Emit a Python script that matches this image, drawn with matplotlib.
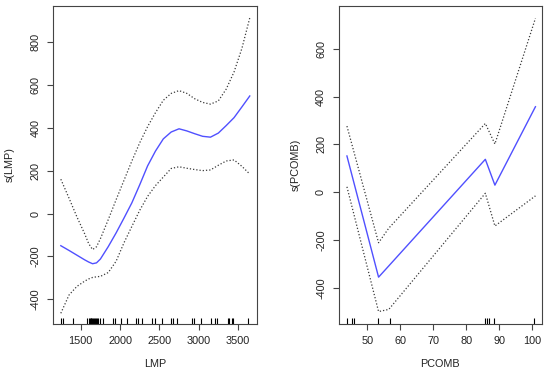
import numpy as np
import matplotlib
matplotlib.use("Agg")
import matplotlib.pyplot as plt
import matplotlib.transforms as mtransforms

plt.rcParams["font.family"] = ["Liberation Sans", "DejaVu Sans"]

# ---- panel 1: s(LMP) ----
lmp_x = [1246, 1350, 1450, 1550, 1600, 1650, 1700, 1750, 1850, 1950, 2050, 2150, 2250, 2350,
         2450, 2550, 2650, 2750, 2850, 2950, 3050, 3150, 3250, 3350, 3450, 3550, 3650]
lmp_fit = [-150, -172, -194, -216, -226, -234, -230, -212, -154, -90, -21, 50, 134, 222,
           291, 348, 380, 395, 385, 372, 360, 356, 375, 410, 447, 497, 548]
lmp_upper = [160, 72, -15, -95, -140, -168, -155, -117, -28, 65, 155, 245, 330, 405,
             470, 528, 560, 573, 560, 535, 518, 510, 525, 580, 660, 770, 912]
lmp_lower = [-465, -380, -340, -315, -305, -298, -295, -293, -275, -222, -136, -60, 15, 80,
             130, 170, 210, 218, 211, 205, 200, 203, 225, 245, 250, 220, 184]
lmp_rug = [1246, 1279, 1406, 1576, 1600, 1615, 1625, 1635, 1645, 1655, 1665, 1680,
           1695, 1710, 1722, 1746, 1780, 1915, 1940, 2009, 2093, 2204, 2233, 2276,
           2403, 2445, 2530, 2645, 2678, 2721, 2912, 2945, 3027, 3158, 3209, 3230,
           3370, 3391, 3421, 3442, 3632]

# ---- panel 2: s(PCOMB) ----
pcomb_x = [43.8, 53.4, 56.5, 85.8, 88.7, 101.0]
pcomb_fit = [152, -355, -308, 138, 30, 358]
pcomb_upper = [277, -211, -150, 288, 202, 728]
pcomb_lower = [23, -499, -490, -4, -141, -15]
pcomb_rug = [43.7, 45.4, 46.0, 53.3, 56.9, 85.6, 86.2, 86.9, 88.5, 100.7]

FS = 7.8
fig = plt.figure(figsize=(5.5, 3.81), dpi=100)
ax1 = fig.add_axes([0.097, 0.1496, 0.3697, 0.8344])
ax2 = fig.add_axes([0.6164, 0.1496, 0.3685, 0.8344])


def panel(ax, x, fit, up, lo, rug, xlim, ylim, xticks, yticks, xlabel, ylabel):
    ax.plot(x, fit, color="#5050ff", lw=1.0)
    ax.plot(x, up, color="#3a3a3a", lw=0.9, ls=(0, (1, 1.6)))
    ax.plot(x, lo, color="#3a3a3a", lw=0.9, ls=(0, (1, 1.6)))
    trans = mtransforms.blended_transform_factory(ax.transData, ax.transAxes)
    ax.vlines(rug, 0, 0.02, transform=trans, color="black", lw=0.8)
    ax.set_xlim(*xlim)
    ax.set_ylim(*ylim)
    ax.set_xticks(xticks)
    ax.set_yticks(yticks)
    ax.set_yticklabels([str(v) for v in yticks], rotation=90, va="center")
    ax.tick_params(direction="out", length=4.3, width=0.8, color="#444444",
                   labelsize=FS, labelcolor="#222222")
    ax.tick_params(axis="x", pad=4)
    ax.tick_params(axis="y", pad=5)
    for s in ax.spines.values():
        s.set_color("#444444")
        s.set_linewidth(0.8)
    ax.set_xlabel(xlabel, fontsize=FS, color="#222222", labelpad=10)
    ax.set_ylabel(ylabel, fontsize=FS, color="#222222", labelpad=11)


panel(ax1, lmp_x, lmp_fit, lmp_upper, lmp_lower, lmp_rug,
      (1151, 3738), (-515, 967), [1500, 2000, 2500, 3000, 3500],
      [-400, -200, 0, 200, 400, 600, 800], "LMP", "s(LMP)")
panel(ax2, pcomb_x, pcomb_fit, pcomb_upper, pcomb_lower, pcomb_rug,
      (41.4, 102.9), (-551, 779), [50, 60, 70, 80, 90, 100],
      [-400, -200, 0, 200, 400, 600], "PCOMB", "s(PCOMB)")

fig.savefig("out.png", dpi=100)
